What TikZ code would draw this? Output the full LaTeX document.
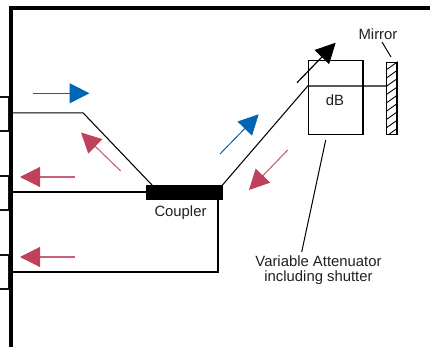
\documentclass[tikz,border=0pt]{standalone}
\usepackage{fontspec}
\setmainfont{Liberation Sans}
\usetikzlibrary{arrows.meta}
\definecolor{flowblue}{HTML}{0066B3}
\definecolor{flowred}{HTML}{C0415B}
\tikzset{
  x=1pt,y=-1pt,
  frame/.style={line width=3.8pt,black},
  stub/.style={line width=1.3pt,black!92},
  fibre/.style={line width=1.05pt,black},
  leader/.style={line width=1pt,black},
  bluearrow/.style={line width=1pt,flowblue,-{Triangle[length=20pt,width=20pt]}},
  redarrow/.style={line width=1.1pt,flowred!85,-{Triangle[length=20pt,width=20pt,color=flowred]}},
  blackarrow/.style={line width=1.2pt,black,-{Triangle[length=20pt,width=20pt]}},
  lab/.style={font=\fontsize{14.85pt}{15pt}\selectfont,text=black!88,inner sep=0pt,align=center},
  box/.style={draw,line width=1.2pt,black,inner sep=0pt,minimum width=54.7pt,minimum height=73.6pt},
  mirrorbox/.style={draw,line width=1.2pt,black,inner sep=0pt,minimum width=10.3pt,minimum height=72pt},
  couplerbox/.style={fill=black,inner sep=0pt,minimum width=76.7pt,minimum height=15pt},
}
\begin{document}
\begin{tikzpicture}
\useasboundingbox (0,0) rectangle (430,347);
% housing
\draw[frame] (430,7.8) -- (11,7.8) -- (11,347);
% port stubs
\draw[stub] (0,97) -- (8.7,97) -- (8.7,131) -- (0,131);
\draw[stub] (0,176) -- (8.7,176) -- (8.7,210) -- (0,210);
\draw[stub] (0,255) -- (8.7,255) -- (8.7,289) -- (0,289);
% components
\node[couplerbox] (coupler) at (184.4,192.5) {};
\node[box] (att) at (335.7,97.5) {};
\node[mirrorbox] (mirror) at (391.9,98.3) {};
\begin{scope}
  \clip (mirror.north west) rectangle (mirror.south east);
  \foreach \y in {70,78.3,...,146}
    \draw[line width=0.9pt] (386,\y) -- (398,\y-8.5);
\end{scope}
\node[lab] (dbt) at (335,100) {dB};
\node[lab] (couplert) at (180.5,213) {Coupler};
\node[lab] (mirrort) at (378,34) {Mirror};
\node[lab] (attt) at (318.5,270.5) {Variable Attenuator\\including shutter};
% fibres
\coordinate (p1) at (12.7,112.8);
\coordinate (p2) at (83,112.8);
\coordinate (p3) at (12.7,192);
\coordinate (p4) at (12.7,272);
\coordinate (p5) at (218,272);
\coordinate (a1) at (att.west |- 0,86);
\coordinate (m1) at (mirror.west |- 0,86);
\draw[fibre] (p1) -- (p2) -- (152,185);
\draw[fibre] (p3) -- (coupler.west |- p3);
\draw[fibre] (p4) -- (p5) -- (p5 |- coupler.south);
\draw[fibre] (222.5,185) -- (a1) -- (m1);
% leaders
\coordinate (l1) at (382,42);
\coordinate (l2) at (391,57);
\draw[leader] (l1) -- (l2);
\coordinate (l3) at (325.7,140);
\coordinate (l4) at (301.7,252);
\draw[leader] (l3) -- (l4);
% flow arrows
\coordinate (b1s) at (33,93.3); \coordinate (b1e) at (89.5,93.3);
\coordinate (b2s) at (220,154); \coordinate (b2e) at (258.7,114.3);
\coordinate (r1s) at (75,177); \coordinate (r1e) at (20,177);
\coordinate (r2s) at (75,257); \coordinate (r2e) at (20,257);
\coordinate (r3s) at (120.7,171); \coordinate (r3e) at (81,132.5);
\coordinate (r4s) at (287.7,150); \coordinate (r4e) at (249,190);
\coordinate (k1s) at (297,82.7); \coordinate (k1e) at (335.7,42.7);
\draw[bluearrow] (b1s) -- (b1e);
\draw[bluearrow] (b2s) -- (b2e);
\draw[redarrow] (r1s) -- (r1e);
\draw[redarrow] (r2s) -- (r2e);
\draw[redarrow] (r3s) -- (r3e);
\draw[redarrow] (r4s) -- (r4e);
\draw[blackarrow] (k1s) -- (k1e);
\end{tikzpicture}
\end{document}
